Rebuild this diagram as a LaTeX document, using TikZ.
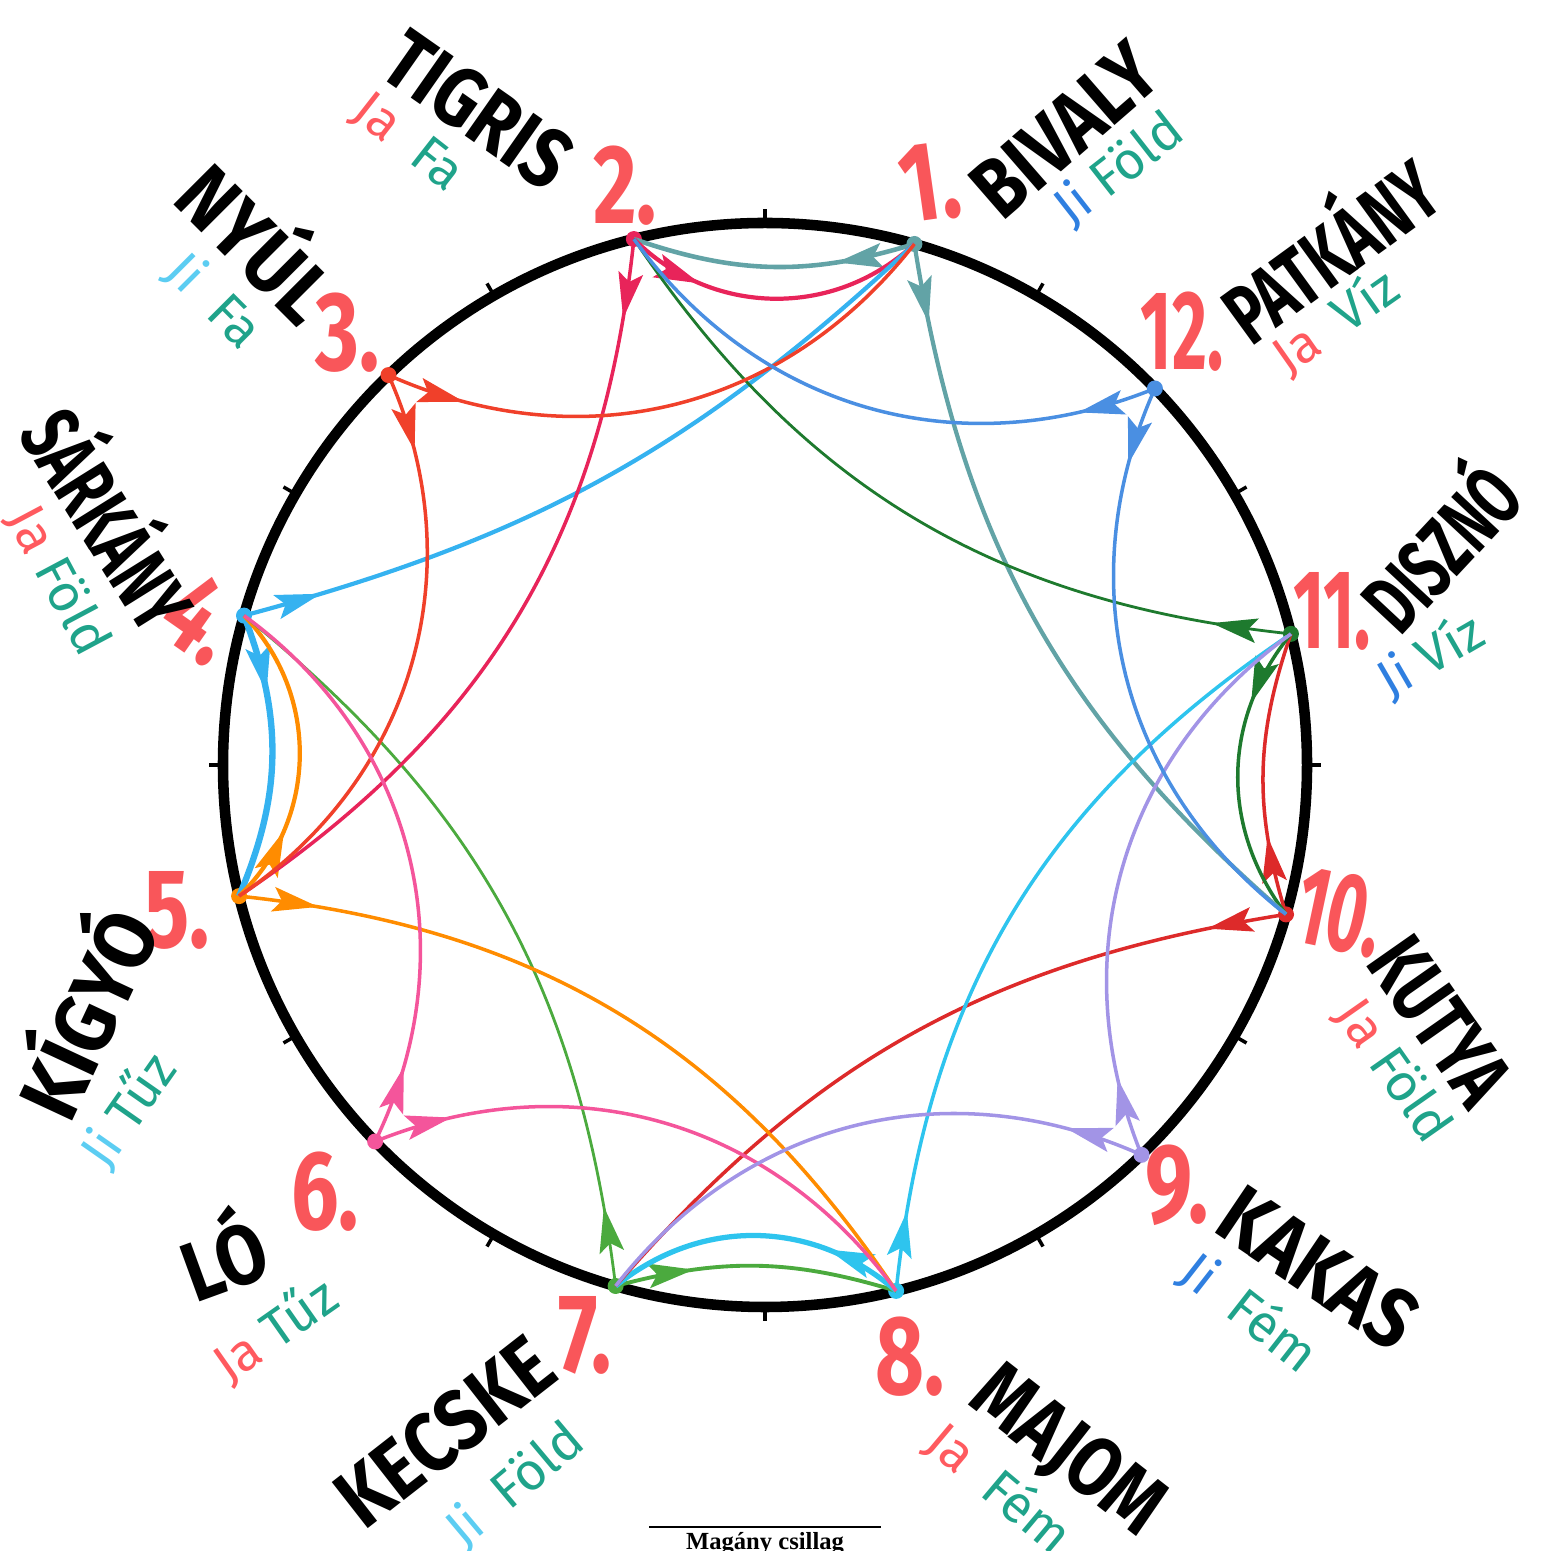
\documentclass[tikz,border=0pt]{standalone}
\usepackage{fontspec}
\setmainfont{Fira Sans}
\newfontfamily\titlefont{Liberation Serif}
\usepackage{graphicx}
\usetikzlibrary{arrows.meta, decorations.markings}

\definecolor{numred}{HTML}{F9565A}
\definecolor{jared}{HTML}{FF5A5F}
\definecolor{jiblue}{HTML}{2F7FE0}
\definecolor{jicyan}{HTML}{5CCDF2}
\definecolor{elteal}{HTML}{1FA38A}
\definecolor{cteal}{HTML}{62A3A6}
\definecolor{ccrimson}{HTML}{E8245A}
\definecolor{cred}{HTML}{F0402A}
\definecolor{csky}{HTML}{35B2F0}
\definecolor{corange}{HTML}{FF8C00}
\definecolor{cpink}{HTML}{F4559B}
\definecolor{cgreen}{HTML}{4BAA3E}
\definecolor{ccyan}{HTML}{2EC4EE}
\definecolor{clav}{HTML}{A294E6}
\definecolor{cdred}{HTML}{DD2A2A}
\definecolor{cdgreen}{HTML}{1E7A2E}
\definecolor{cblue}{HTML}{4A8FE2}

% squeeze the marker lettering a bit
\newcommand\squeeze[2]{\scalebox{#1}[1]{#2}}

\tikzset{
  num/.style={text=numred, font=\fontsize{32}{32}\selectfont\bfseries, inner sep=0pt},
  animal/.style={font=\fontsize{24}{24}\selectfont\bfseries, inner sep=0pt,
    text height=0.58cm, text depth=0pt},
  elem/.style={font=\fontsize{15}{15}\selectfont, inner sep=0pt,
    text height=0.37cm, text depth=0pt},
  rel/.style={draw=#1, line width=1pt, postaction={decorate},
    decoration={markings, mark=at position 0.8cm with {\arrow{Stealth[length=13pt, width=7pt, inset=2.5pt, color=#1]}}}},
}

\begin{document}
\begin{tikzpicture}
\useasboundingbox (0,0) rectangle (15.42,15.51);

\coordinate (c) at (7.65,7.86);
\foreach \i in {1,...,12}
  \coordinate (v\i) at ({7.65+5.42*cos(74+30*(\i-1))},{7.86+5.42*sin(74+30*(\i-1))});

% the wheel
\draw[line width=3pt] (c) circle[radius=5.42];
\foreach \a in {0,30,...,330}
  \draw[line width=1pt] (c) ++(\a:5.40) -- ++(\a:0.16);

\foreach \i/\col in {1/cteal,2/ccrimson,3/cred,4/csky,5/corange,6/cpink,7/cgreen,8/ccyan,9/clav,10/cdred,11/cdgreen,12/cblue}
  \fill[\col] (v\i) circle[radius=0.08];

% neighbour pairs
\draw[rel=cteal, line width=1.3pt] (v1) to[bend left=18] (v2);
\draw[rel=ccrimson, line width=1.2pt] (v2) to[bend right=44] (v1);
\draw[rel=csky, line width=1.8pt] (v4) to[bend left=22] (v5);
\draw[rel=corange, line width=1.2pt] (v5) to[bend right=45] (v4);
\draw[rel=cgreen, line width=1.1pt] (v7) to[bend left=16] (v8);
\draw[rel=ccyan, line width=1.5pt] (v8) to[bend right=40] (v7);
\draw[rel=cdred] (v10) to[bend left=18] (v11);
\draw[rel=cdgreen] (v11) to[bend right=38] (v10);

% across, three steps back
\draw[rel=cteal, line width=1.2pt] (v1) to[bend right=20] (v10);
\draw[rel=csky, line width=1.2pt] (v4) to[bend right=14] (v1);
\draw[rel=cgreen, line width=0.8pt] (v7) to[bend right=22] (v4);
\draw[rel=cdred] (v10) to[bend right=20] (v7);

% across, three steps on
\draw[rel=ccrimson] (v2) to[bend left=25] (v5);
\draw[rel=corange] (v5) to[bend left=25] (v8);
\draw[rel=ccyan] (v8) to[bend left=25] (v11);
\draw[rel=cdgreen, line width=0.8pt] (v11) to[bend left=25] (v2);

% the four lonely ones
\draw[rel=cred] (v3) to[bend right=38] (v1);
\draw[rel=cred] (v3) to[bend left=40] (v5);
\draw[rel=cpink] (v6) to[bend right=40] (v4);
\draw[rel=cpink] (v6) to[bend left=38] (v8);
\draw[rel=clav] (v9) to[bend right=38] (v7);
\draw[rel=clav] (v9) to[bend left=38] (v11);
\draw[rel=cblue] (v12) to[bend right=38] (v10);
\draw[rel=cblue] (v12) to[bend left=38] (v2);

% numbers
\node[num, rotate=8] (n1) at (9.30,13.68) {\squeeze{0.75}{1.}};
\node[num] (n2) at (6.25,13.65) {\squeeze{0.75}{2.}};
\node[num] (n3) at (3.48,12.18) {\squeeze{0.75}{3.}};
\node[num, rotate=-35] (n4) at (2.02,9.32) {\squeeze{0.75}{4.}};
\node[num] (n5) at (1.77,6.41) {\squeeze{0.75}{5.}};
\node[num] (n6) at (3.25,3.59) {\squeeze{0.75}{6.}};
\node[num] (n7) at (5.85,2.16) {\squeeze{0.75}{7.}};
\node[num] (n8) at (9.10,1.94) {\squeeze{0.75}{8.}};
\node[num] (n9) at (11.77,3.66) {\squeeze{0.75}{9.}};
\node[num, rotate=-12] (n10) at (13.40,6.39) {\squeeze{0.6}{10.}};
\node[num] (n11) at (13.32,9.40) {\squeeze{0.6}{11.}};
\node[num] (n12) at (11.82,12.19) {\squeeze{0.6}{12.}};

% animals
\node[animal, rotate=41] (bivaly) at (10.65,14.21) {\squeeze{0.83}{BIVALY}};
\node[animal, rotate=-35] (tigris) at (4.78,14.41) {\squeeze{0.83}{TIGRIS}};
\node[animal, rotate=-45] (nyul) at (2.55,13.06) {\squeeze{0.88}{NYÚL}};
\node[animal, rotate=-58] (sarkany) at (1.06,10.30) {\squeeze{0.67}{SÁRKÁNY}};
\node[animal, rotate=65] (kigyo) at (0.90,5.36) {\squeeze{0.92}{KÍGYÓ}};
\node[animal, rotate=20] (lo) at (2.25,2.89) {\squeeze{0.86}{LÓ}};
\node[animal, rotate=38] (kecske) at (4.45,1.19) {\squeeze{0.86}{KECSKE}};
\node[animal, rotate=-38] (majom) at (10.70,1.03) {\squeeze{0.82}{MAJOM}};
\node[animal, rotate=-34] (kakas) at (13.18,2.83) {\squeeze{0.86}{KAKAS}};
\node[animal, rotate=-55] (kutya) at (14.40,5.30) {\squeeze{0.73}{KUTYA}};
\node[animal, rotate=47] (diszno) at (14.43,10.01) {\squeeze{0.65}{DISZNÓ}};
\node[animal, rotate=36] (patkany) at (13.32,12.98) {\squeeze{0.7}{PATKÁNY}};

% yin / yang and element
\node[elem, rotate=38] (e1) at (11.18,13.83) {\textcolor{jiblue}{Ji}\ \textcolor{elteal}{Föld}};
\node[elem, rotate=-38] (e2) at (4.10,14.11) {\textcolor{jared}{Ja}\ \ \textcolor{elteal}{Fa}};
\node[elem, rotate=-45] (e3) at (2.15,12.51) {\textcolor{jicyan}{Ji}\ \ \textcolor{elteal}{Fa}};
\node[elem, rotate=-62] (e4) at (0.60,9.71) {\textcolor{jared}{Ja}\ \textcolor{elteal}{Föld}};
\node[elem, rotate=55] (e5) at (1.28,4.41) {\textcolor{jicyan}{Ji}\ \textcolor{elteal}{Tűz}};
\node[elem, rotate=35] (e6) at (2.75,2.21) {\textcolor{jared}{Ja}\ \textcolor{elteal}{Tűz}};
\node[elem, rotate=40] (e7) at (5.14,0.67) {\textcolor{jicyan}{Ji}\ \ \textcolor{elteal}{Föld}};
\node[elem, rotate=-40] (e8) at (10.00,0.63) {\textcolor{jared}{Ja}\ \ \textcolor{elteal}{Fém}};
\node[elem, rotate=-38] (e9) at (12.50,2.39) {\textcolor{jiblue}{Ji}\ \ \textcolor{elteal}{Fém}};
\node[elem, rotate=-55] (e10) at (13.95,4.81) {\textcolor{jared}{Ja}\ \textcolor{elteal}{Föld}};
\node[elem, rotate=30] (e11) at (14.30,8.96) {\textcolor{jiblue}{Ji}\ \textcolor{elteal}{Víz}};
\node[elem, rotate=35] (e12) at (13.35,12.30) {\textcolor{jared}{Ja}\ \ \textcolor{elteal}{Víz}};

% caption at the foot, cut by the page edge
\node[anchor=north, minimum width=2.3cm, inner xsep=0pt, inner ysep=0.05cm,
  font=\titlefont\bfseries\fontsize{7}{7}\selectfont] (title) at (7.65,0.24) {Magány csillag};
\draw[line width=0.8pt] (title.north west) -- (title.north east);
\end{tikzpicture}
\end{document}
